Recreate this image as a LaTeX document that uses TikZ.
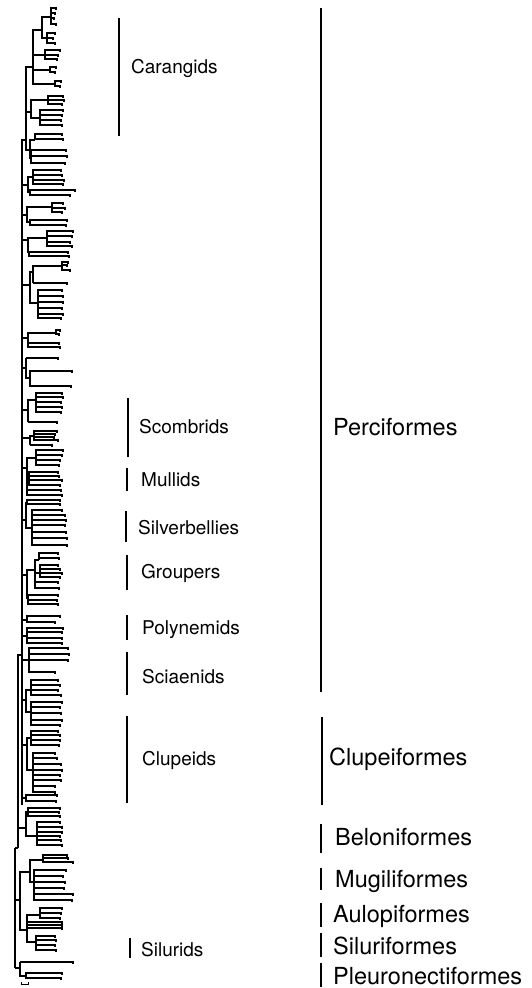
\documentclass[tikz,border=0pt]{standalone}
\usepackage{fontspec}
\setmainfont{TeX Gyre Heros}
\usetikzlibrary{positioning}

\tikzset{
  br/.style={line width=1.2pt},
  bar/.style={line width=1.3pt},
  lab/.style={right,inner sep=0pt,font=\fontsize{19}{21}\selectfont},
  ord/.style={right,inner sep=0pt,font=\fontsize{23.5}{26}\selectfont},
}
% 枝: 親(x,y) から節(x,y)へ
\newcommand{\clade}[4]{\draw[br] (#1,#2) |- (#3,#4);}
% 末端の枝: 葉 y/x の並び
\newcommand{\twig}[5]{%
  \clade{#1}{#2}{#3}{#4}%
  \foreach \ly/\lx in {#5}{%
    \draw[br] (#3,#4) |- (\lx,\ly);
    \draw[br] (\lx,\ly-1.5) -- (\lx,\ly+1.5);
  }}

\begin{document}
\begin{tikzpicture}[x=1pt,y=-1pt]
  \useasboundingbox (0,0) rectangle (531,988);

  % 幹
  \draw[br] (22,160) -- (22,805);
  \clade{18}{848}{22}{655}
  \draw[br] (15,848) -- (15,968);
  \clade{15}{848}{18}{848}
  \clade{15}{900}{20}{900}
  \clade{15}{968}{20}{968}

  % 上部(Carangids)
  \clade{22}{160}{26}{140}
  \clade{26}{140}{33}{67}
  \clade{33}{67}{42}{30}
  \twig{42}{30}{51}{17}{8/56,13/55,18/54,24/56}
  \twig{42}{30}{47}{38}{33/55,38/53,43/55}
  \twig{33}{67}{45}{55}{50/60,55/58,59/57}
  \twig{33}{67}{50}{70}{67/56,72/55}
  \twig{33}{67}{55}{84}{81/61,86/60}
  \clade{26}{140}{31}{112}
  \twig{31}{112}{48}{100}{96/63,100/64,104/62}
  \twig{31}{112}{40}{118}{110/63,115/62,120/61,125/62}
  \clade{26}{140}{30}{150}
  \twig{30}{150}{35}{140}{134/62,139/63}
  \twig{30}{150}{31}{158}{150/66,156/67,163/65}

  % y 165--500
  \clade{22}{185}{28}{185}
  \twig{28}{185}{33}{177}{170/61,175/62,180/64,184/63}
  \twig{28}{185}{30}{192}{190/75,195/70}
  \clade{22}{215}{27}{215}
  \twig{27}{215}{52}{207}{203/63,208/65,212/62}
  \twig{27}{215}{30}{222}{220/67,225/66}
  \clade{22}{240}{28}{240}
  \twig{28}{240}{47}{238}{231/73,236/72,242/70,246/72}
  \twig{28}{240}{29}{252}{252/68,256/69}
  \clade{22}{285}{30}{285}
  \clade{30}{285}{33}{272}
  \twig{33}{272}{62}{266}{262/68,265/67,270/70}
  \twig{33}{272}{33}{283}{283/67}
  \twig{30}{285}{38}{303}{290/62,296/63,302/63,308/62,314/63,318/61}
  \clade{22}{338}{28}{338}
  \twig{28}{338}{56}{333}{330/60,334/59}
  \twig{28}{338}{28}{345}{343/59,347/60}
  \clade{22}{368}{26}{368}
  \twig{26}{368}{26}{358}{358/58}
  \twig{26}{368}{30}{378}{371/72,386/71}
  \clade{22}{410}{28}{410}
  \twig{28}{410}{36}{400}{393/62,397/63,402/61,407/62,412/61}
  \twig{28}{410}{28}{422}{422/57}
  \clade{22}{438}{30}{438}
  \twig{30}{438}{34}{436}{431/57,434/55,437/54,440/58}
  \twig{30}{438}{30}{445}{445/52}
  \clade{22}{468}{27}{468}
  \twig{27}{468}{36}{458}{450/63,455/62,460/60,465/59}
  \twig{27}{468}{29}{478}{472/58,476/59,480/62,485/60}
  \twig{27}{468}{27}{492}{490/61,495/62}

  % y 500--805
  \clade{22}{520}{26}{520}
  \twig{26}{520}{27}{503}{500/60,504/60}
  \twig{26}{520}{32}{528}{510/62,515/65,520/66,525/65,532/66,538/67,545/67}
  \clade{22}{575}{27}{575}
  \clade{27}{575}{35}{570}
  \twig{35}{570}{39}{560}{553/58,558/59}
  \twig{35}{570}{40}{573}{565/58,569/60,573/62,577/60}
  \twig{35}{570}{35}{585}{582/58,588/59}
  \twig{27}{575}{28}{598}{595/58,600/57,604/58}
  \clade{22}{620}{27}{620}
  \twig{27}{620}{27}{619}{616/60,622/55}
  \clade{22}{636}{27}{636}
  \twig{27}{636}{27}{636}{628/63,632/62,638/62,643/62}
  \clade{22}{660}{29}{660}
  \twig{29}{660}{29}{656}{648/68,654/69,660/68}
  \twig{29}{660}{29}{670}{672/55}
  \clade{22}{700}{26}{700}
  \twig{26}{700}{31}{690}{680/58,685/60,690/58,695/61}
  \twig{26}{700}{31}{712}{702/62,707/60,713/61,720/62,725/60}
  \clade{22}{745}{27}{745}
  \twig{27}{745}{31}{738}{731/58,735/60,740/60,745/59}
  \twig{27}{745}{33}{770}{753/55,758/57,764/61,770/62,775/60,780/61,786/55,792/55}
  \clade{22}{798}{26}{798}
  \twig{26}{798}{26}{798}{795/57,801/56}

  % 下部
  \clade{18}{828}{26}{828}
  \twig{26}{828}{28}{812}{808/60,812/59,816/60}
  \twig{26}{828}{37}{836}{822/60,827/62,832/62,836/60,840/61,845/62}
  \clade{20}{900}{30}{872}
  \twig{30}{872}{43}{860}{855/67,858/68,862/73}
  \twig{30}{872}{34}{882}{870/66,876/63,882/65,888/64,894/73,900/72}
  \clade{20}{900}{27}{930}
  \twig{27}{930}{40}{915}{908/62,913/61,918/60}
  \twig{27}{930}{27}{926}{922/62,925/62,928/62}
  \twig{27}{930}{36}{942}{936/55,940/56,945/55,950/56}
  \twig{20}{968}{20}{962}{962/73}
  \twig{20}{968}{26}{976}{973/62,978/61}
  % スケール
  \draw[line width=1pt] (21,984) -- (28,984);
  \draw[line width=1pt] (21,982) -- (21,985) (28,982) -- (28,985);

  % 科
  \draw[bar] (119,18) -- (119,136);
  \node[lab] (carangids) at (131,68) {Carangids};
  \draw[bar] (128,398) -- (128,457);
  \node[lab] (scombrids) at (139,427) {Scombrids};
  \draw[bar] (127,468) -- (127,491);
  \node[lab] (mullids) at (141,480) {Mullids};
  \draw[bar] (126,511) -- (126,542);
  \node[lab] (silverbellies) at (138,528) {Silverbellies};
  \draw[bar] (127,555) -- (127,590);
  \node[lab] (groupers) at (141,573) {Groupers};
  \draw[bar] (127,615) -- (127,640);
  \node[lab] (polynemids) at (142,630) {Polynemids};
  \draw[bar] (127,652) -- (127,695);
  \node[lab] (sciaenids) at (142,677) {Sciaenids};
  \draw[bar] (127,716) -- (127,803);
  \node[lab] (clupeids) at (142,760) {Clupeids};
  \draw[bar] (130,938) -- (130,958);
  \node[lab] (silurids) at (141,950) {Silurids};

  % 目
  \draw[bar] (321,8) -- (321,692);
  \node[ord] (perciformes) at (333,427) {Perciformes};
  \draw[bar] (322,717) -- (322,805);
  \node[ord] (clupeiformes) at (329,759) {Clupeiformes};
  \draw[bar] (321,824) -- (321,853);
  \node[ord] (beloniformes) at (335,837) {Beloniformes};
  \draw[bar] (321,868) -- (321,890);
  \node[ord] (mugiliformes) at (335,881) {Mugiliformes};
  \draw[bar] (321,903) -- (321,927);
  \node[ord] (aulopiformes) at (333,916) {Aulopiformes};
  \draw[bar] (321,933) -- (321,957);
  \node[ord] (siluriformes) at (333,946) {Siluriformes};
  \draw[bar] (321,963) -- (321,987);
  \node[ord] (pleuronectiformes) at (333,976) {Pleuronectiformes};
\end{tikzpicture}
\end{document}
